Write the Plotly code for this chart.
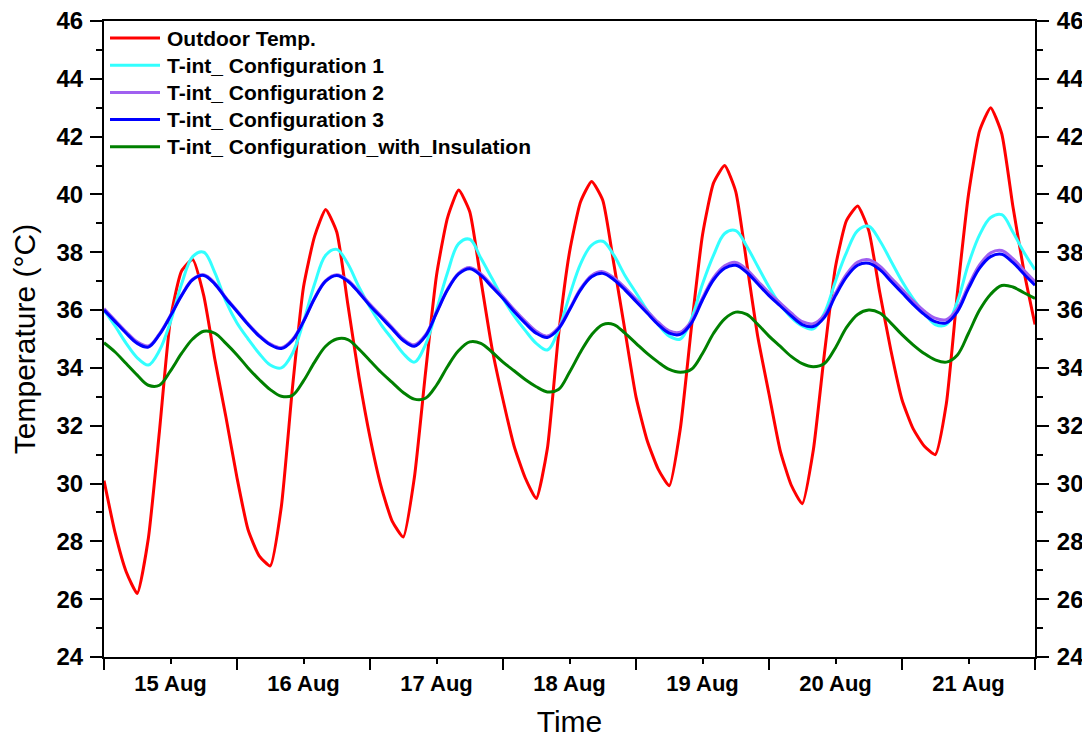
import pandas as pd
import plotly.graph_objects as go

# time axis: every 2 hours from 15 Aug 00:00 to 22 Aug 00:00
start_time = "2021-08-15 00:00"
n_points = 85
step = "2h"

outdoor = [30.1, 28.3, 26.95, 26.2, 28.1, 31.8, 35.7, 37.35, 37.75, 36.5, 34.3, 32.3,
           30.2, 28.4, 27.5, 27.15, 29.2, 33.3, 36.8, 38.55, 39.48, 38.7, 36.2, 33.7,
           31.6, 29.9, 28.7, 28.15, 30.2, 33.8, 37.2, 39.2, 40.15, 39.4, 37.05, 34.7,
           32.9, 31.3, 30.2, 29.48, 31.2, 35.1, 38.0, 39.75, 40.45, 39.8, 37.6, 35.3,
           33.0, 31.5, 30.5, 29.92, 31.9, 35.4, 38.6, 40.4, 41.0, 40.1, 37.6, 35.05,
           33.1, 31.16, 29.95, 29.3, 31.16, 34.5, 37.5, 39.1, 39.6, 38.75, 36.6, 34.6,
           32.9, 31.9, 31.3, 31.0, 32.76, 36.6, 40.0, 42.2, 43.0, 42.1, 39.6, 37.35,
           35.5]

config1 = [36.0, 35.45, 34.85, 34.35, 34.1, 34.6, 35.6, 36.9, 37.85, 38.0, 37.3, 36.3,
           35.55, 35.0, 34.5, 34.1, 34.0, 34.5, 35.6, 36.9, 37.9, 38.1, 37.6, 36.8,
           36.1, 35.5, 35.0, 34.5, 34.2, 34.8, 36.0, 37.3, 38.3, 38.45, 37.8, 37.1,
           36.4, 35.8, 35.3, 34.85, 34.62, 35.3, 36.5, 37.6, 38.25, 38.38, 37.9, 37.2,
           36.6, 36.0, 35.5, 35.1, 35.0, 35.7, 36.9, 37.9, 38.65, 38.75, 38.2, 37.5,
           36.8, 36.2, 35.75, 35.45, 35.35, 35.9, 37.0, 38.0, 38.75, 38.9, 38.4, 37.7,
           37.0, 36.4, 35.9, 35.5, 35.5, 36.3, 37.6, 38.6, 39.2, 39.3, 38.7, 38.0,
           37.4]

config2 = [36.05, 35.65, 35.25, 34.9, 34.76, 35.18, 35.82, 36.52, 37.07, 37.22, 36.93, 36.43,
           35.98, 35.53, 35.13, 34.83, 34.7, 34.98, 35.62, 36.42, 37.02, 37.22, 37.03, 36.64,
           36.2, 35.8, 35.4, 35.0, 34.8, 35.14, 35.93, 36.73, 37.28, 37.47, 37.25, 36.86,
           36.46, 36.02, 35.62, 35.27, 35.1, 35.4, 36.04, 36.74, 37.2, 37.33, 37.12, 36.78,
           36.38, 35.98, 35.58, 35.28, 35.24, 35.62, 36.42, 37.12, 37.53, 37.65, 37.4, 37.0,
           36.6, 36.25, 35.9, 35.6, 35.53, 35.83, 36.58, 37.24, 37.66, 37.74, 37.52, 37.12,
           36.72, 36.32, 35.97, 35.72, 35.67, 36.05, 36.85, 37.56, 37.98, 38.06, 37.78, 37.38,
           36.98]

config3 = [36.0, 35.6, 35.2, 34.85, 34.72, 35.15, 35.8, 36.5, 37.05, 37.2, 36.9, 36.4,
           35.95, 35.5, 35.1, 34.8, 34.67, 34.95, 35.6, 36.4, 37.0, 37.2, 37.0, 36.6,
           36.15, 35.75, 35.35, 34.95, 34.75, 35.1, 35.9, 36.7, 37.25, 37.43, 37.2, 36.8,
           36.4, 35.95, 35.55, 35.2, 35.05, 35.35, 36.0, 36.7, 37.15, 37.27, 37.05, 36.7,
           36.3, 35.9, 35.5, 35.2, 35.16, 35.55, 36.35, 37.05, 37.45, 37.55, 37.3, 36.9,
           36.5, 36.15, 35.8, 35.5, 35.43, 35.75, 36.5, 37.15, 37.55, 37.62, 37.4, 37.0,
           36.6, 36.2, 35.85, 35.6, 35.56, 35.95, 36.75, 37.45, 37.85, 37.93, 37.65, 37.25,
           36.86]

insulation = [34.87, 34.55, 34.15, 33.75, 33.4, 33.4, 33.9, 34.5, 35.0, 35.27, 35.2, 34.85,
              34.45, 34.0, 33.6, 33.25, 33.02, 33.05, 33.55, 34.2, 34.75, 35.0, 34.98, 34.65,
              34.25, 33.85, 33.5, 33.15, 32.92, 32.95, 33.4, 34.05, 34.6, 34.9, 34.85, 34.55,
              34.2, 33.9, 33.6, 33.35, 33.17, 33.25, 33.85, 34.55, 35.15, 35.5, 35.5, 35.2,
              34.85, 34.5, 34.2, 33.95, 33.85, 33.95, 34.5, 35.2, 35.7, 35.93, 35.85, 35.5,
              35.1, 34.75, 34.4, 34.15, 34.04, 34.15, 34.7, 35.4, 35.85, 36.0, 35.9, 35.55,
              35.15, 34.8, 34.5, 34.28, 34.2, 34.45, 35.2, 36.0, 36.55, 36.85, 36.8, 36.6,
              36.4]

names = ["Outdoor Temp.", "T-int_ Configuration 1", "T-int_ Configuration 2",
         "T-int_ Configuration 3", "T-int_ Configuration_with_Insulation"]
colors = ["#FF0000", "#33FFFF", "#A060F0", "#0000FF", "#008000"]

x_range = ["2021-08-15", "2021-08-22"]
y_range = [24, 46]

times = pd.date_range(start_time, periods=n_points, freq=step)

font_family = "Liberation Sans, Arial, sans-serif"

# the page body adds an 8 px offset, so the figure is 8 px smaller than the window
OFF = 8
W, H = 1090 - OFF, 738 - OFF
ML, MT = 104 - OFF, 21 - OFF
MR, MB = W - (1035 - OFF), H - (657 - OFF)
PW, PH = W - ML - MR, H - MT - MB


def px_to_paper(px, py):
    # px, py are window pixel positions
    return (px - OFF - ML) / PW, (H - MB - (py - OFF)) / PH


fig = go.Figure()
series = [outdoor, config1, config2, config3, insulation]
for name, vals, col in zip(names, series, colors):
    is_out = name.startswith("Outdoor")
    fig.add_trace(go.Scatter(
        x=times, y=vals, name=name, mode="lines",
        line=dict(color=col, width=3, shape="spline",
                  smoothing=0.5 if is_out else 1.0),
        hoverinfo="skip", showlegend=False,
    ))

# invisible trace so the right-hand axis is drawn
fig.add_trace(go.Scatter(x=times, y=outdoor, yaxis="y2", mode="lines",
                         line=dict(width=0), opacity=0, showlegend=False,
                         hoverinfo="skip"))

# legend drawn in paper coordinates (line sample + bold label)
legend_row0, legend_gap = 38, 27.2
for i, (name, col) in enumerate(zip(names, colors)):
    py = legend_row0 + i * legend_gap
    x0, y0 = px_to_paper(110, py)
    x1, _ = px_to_paper(160, py)
    fig.add_shape(type="line", xref="paper", yref="paper", x0=x0, x1=x1, y0=y0, y1=y0,
                  line=dict(color=col, width=3))
    tx, _ = px_to_paper(165, py)
    fig.add_annotation(xref="paper", yref="paper", x=tx, y=y0, xanchor="left",
                       yanchor="middle", showarrow=False, text=name,
                       font=dict(family=font_family, size=21, color="black", weight="bold"))

tickfont_y = dict(family=font_family, size=24, color="black", weight="bold")
tickfont_x = dict(family=font_family, size=22, color="black", weight="bold")

fig.update_layout(
    width=W, height=H,
    margin=dict(l=ML, r=MR, t=MT, b=MB, autoexpand=False),
    paper_bgcolor="white", plot_bgcolor="white",
    font=dict(family=font_family, color="black"),
    showlegend=False,
    xaxis=dict(
        type="date", range=x_range, automargin=False,
        tick0="2021-08-15", dtick=86400000,
        tickformat="%d %b", ticklabelmode="period",
        ticks="outside", ticklen=11, tickwidth=2, tickcolor="black",
        minor=dict(ticks="outside", ticklen=5, tickwidth=2, tickcolor="black",
                   dtick=86400000, tick0="2021-08-15 12:00", showgrid=False),
        showline=True, linewidth=2, linecolor="black", mirror=True,
        showgrid=False, zeroline=False,
        tickfont=tickfont_x, ticklabelstandoff=-5,
        title=dict(text="Time", font=dict(family=font_family, size=30, color="black"),
                   standoff=16),
    ),
    yaxis=dict(
        range=y_range, dtick=2, tick0=24, automargin=False,
        ticks="outside", ticklen=12, tickwidth=2, tickcolor="black",
        minor=dict(ticks="outside", ticklen=6, tickwidth=2, tickcolor="black",
                   dtick=1, showgrid=False),
        showline=True, linewidth=2, linecolor="black",
        showgrid=False, zeroline=False,
        tickfont=tickfont_y, ticklabelstandoff=2, ticklabeloverflow="allow",
        title=dict(text="Temperature (°C)", font=dict(family=font_family, size=30, color="black"),
                   standoff=12),
    ),
    yaxis2=dict(
        range=y_range, dtick=2, tick0=24, overlaying="y", side="right", automargin=False,
        ticks="outside", ticklen=12, tickwidth=2, tickcolor="black",
        minor=dict(ticks="outside", ticklen=6, tickwidth=2, tickcolor="black",
                   dtick=1, showgrid=False),
        showline=True, linewidth=2, linecolor="black",
        showgrid=False, zeroline=False,
        tickfont=tickfont_y, ticklabelstandoff=3, ticklabeloverflow="allow",
    ),
)

fig.write_html("out.html")
